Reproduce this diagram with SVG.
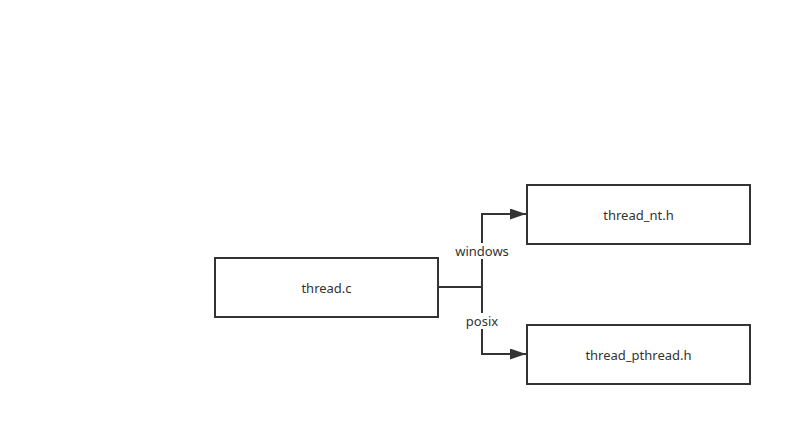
<svg xmlns="http://www.w3.org/2000/svg" width="811" height="445" viewBox="0 0 811 445">
<style>
.box{fill:#fff;stroke:#333;stroke-width:2}
.t{font-family:"Noto Sans","Open Sans",sans-serif;font-size:13px;fill:#333;text-anchor:middle;dominant-baseline:central}
.e{fill:none;stroke:#333;stroke-width:2}
.lb{fill:#fff}
</style>
<defs>
<marker id="arr" markerWidth="16" markerHeight="11" refX="16" refY="5.5" orient="auto" markerUnits="userSpaceOnUse">
<path d="M0,0 L16,5.5 L0,11 Z" fill="#333"/>
</marker>
</defs>
<rect width="811" height="445" fill="#fff"/>
<g id="connectors">
<path class="e" d="M438,287 H482 V214 H526" marker-end="url(#arr)"/>
<path class="e" d="M482,287 V354 H526" marker-end="url(#arr)"/>
<rect class="lb" x="454" y="243" width="56" height="16"/>
<text class="t" x="482" y="251">windows</text>
<rect class="lb" x="464" y="313" width="36" height="16"/>
<text class="t" x="482" y="321">posix</text>
</g>
<g id="thread_c">
<rect class="box" x="215" y="258" width="223" height="59"/>
<text class="t" x="326.5" y="287.5">thread.c</text>
</g>
<g id="thread_nt_h">
<rect class="box" x="527" y="185" width="223" height="59"/>
<text class="t" x="638.5" y="214.5">thread_nt.h</text>
</g>
<g id="thread_pthread_h">
<rect class="box" x="527" y="325" width="223" height="59"/>
<text class="t" x="638.5" y="354.5">thread_pthread.h</text>
</g>
</svg>
